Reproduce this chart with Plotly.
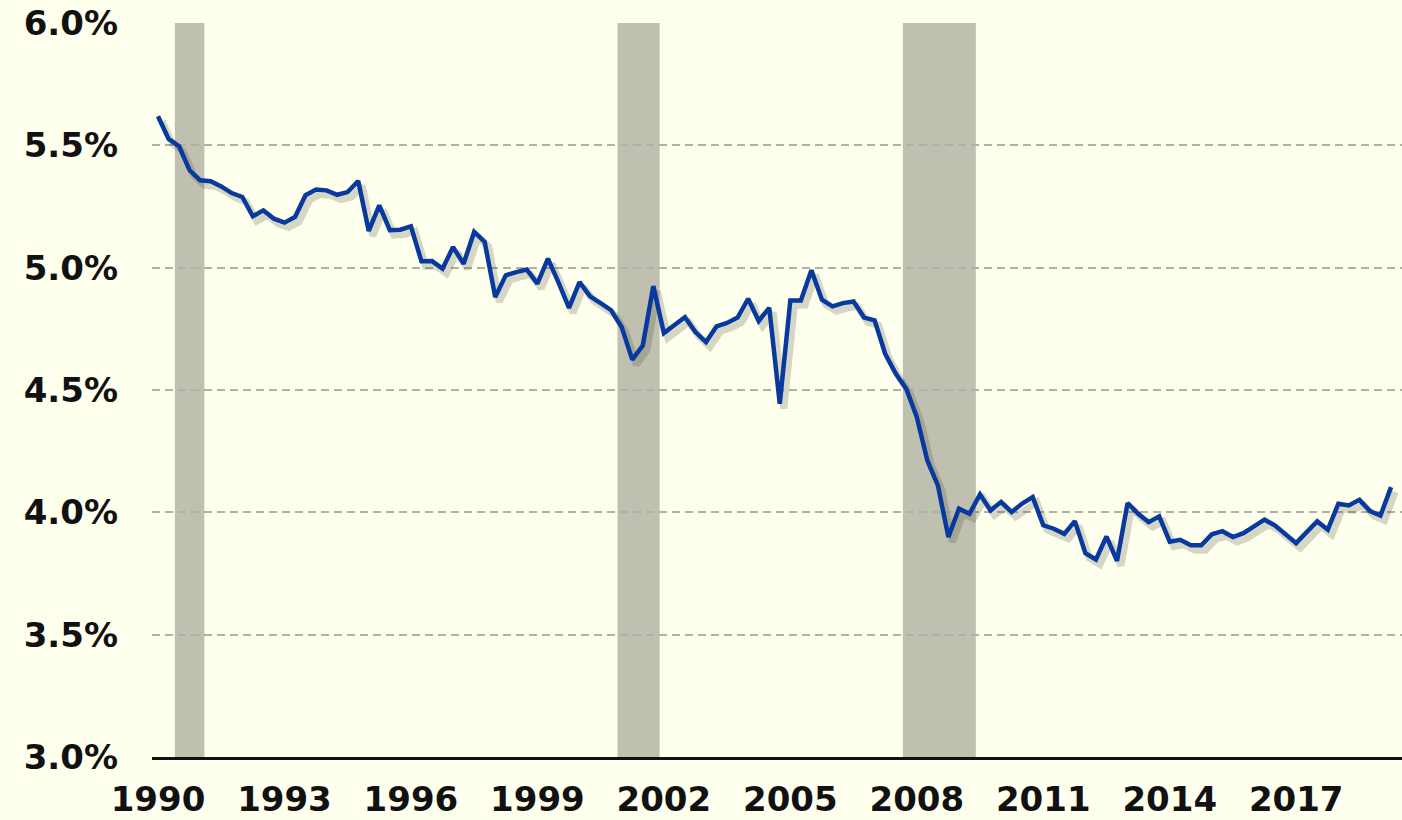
import plotly.graph_objects as go

start_year = 1990
values = [5.619, 5.527, 5.496, 5.398, 5.357, 5.353, 5.332, 5.305, 5.289, 5.21,
          5.234, 5.20, 5.184, 5.207, 5.296, 5.319, 5.316, 5.298, 5.309, 5.354,
          5.15, 5.255, 5.153, 5.155, 5.169, 5.026, 5.027, 4.996, 5.084, 5.016,
          5.146, 5.105, 4.88, 4.969, 4.982, 4.992, 4.935, 5.037, 4.94, 4.836,
          4.941, 4.883, 4.855, 4.826, 4.757, 4.624, 4.682, 4.925, 4.733, 4.764,
          4.798, 4.737, 4.696, 4.76, 4.774, 4.796, 4.873, 4.782, 4.836, 4.444,
          4.866, 4.866, 4.989, 4.869, 4.842, 4.855, 4.862, 4.796, 4.785, 4.648,
          4.567, 4.505, 4.39, 4.212, 4.11, 3.899, 4.015, 3.994, 4.073, 4.008,
          4.042, 4.001, 4.036, 4.062, 3.947, 3.933, 3.912, 3.964, 3.833, 3.807,
          3.901, 3.802, 4.038, 3.994, 3.96, 3.983, 3.88, 3.888, 3.865, 3.865,
          3.91, 3.923, 3.899, 3.915, 3.942, 3.97, 3.946, 3.91, 3.874, 3.919,
          3.963, 3.929, 4.035, 4.028, 4.051, 4.005, 3.987, 4.103]
years = [start_year + i / 4 for i in range(len(values))]

recession_start = [1990.4, 2000.9, 2007.67]
recession_end = [1991.1, 2001.9, 2009.4]

tick_years = [1990, 1993, 1996, 1999, 2002, 2005, 2008, 2011, 2014, 2017]
tick_labels = [str(y) for y in tick_years]
y_ticks = [3.0, 3.5, 4.0, 4.5, 5.0, 5.5, 6.0]
y_labels = ["3.0%", "3.5%", "4.0%", "4.5%", "5.0%", "5.5%", "6.0%"]

XR = [1989.858, 2019.51]
YR = [3.0, 6.0]
# shadow offset (in axis units): ~4px right, ~5px down
dx = 0.095
dy = 0.02

BG = "#FFFFEE"
FAMILY = "DejaVu Sans, sans-serif"

fig = go.Figure()
fig.add_trace(go.Scatter(x=years, y=values, mode="lines", xaxis="x2", yaxis="y2",
                         line=dict(color="rgba(70,70,50,0.22)", width=7),
                         hoverinfo="skip", showlegend=False))
fig.add_trace(go.Scatter(x=years, y=values, mode="lines", xaxis="x3", yaxis="y3",
                         line=dict(color="#07399E", width=4.5),
                         showlegend=False))

for s, e in zip(recession_start, recession_end):
    fig.add_shape(type="rect", xref="x", yref="y", x0=s, x1=e, y0=YR[0], y1=YR[1],
                  fillcolor="#C0C0B0", line=dict(width=0), layer="below")

fig.update_layout(
    width=1402, height=820,
    margin=dict(l=152, r=0, t=23, b=63, autoexpand=False),
    paper_bgcolor=BG, plot_bgcolor=BG,
    font=dict(family=FAMILY, size=34, color="#111111"),
    xaxis=dict(range=XR, tickvals=tick_years, ticktext=tick_labels,
               showgrid=False, zeroline=False, showline=True,
               linecolor="#111111", linewidth=3, ticks="", automargin=False,
               ticklabelstandoff=10,
               tickfont=dict(family=FAMILY, size=34, color="#111111", weight="bold")),
    yaxis=dict(range=YR, tickvals=y_ticks, ticktext=y_labels,
               showgrid=True, gridcolor="#B0B0A8", gridwidth=1.8, griddash="8px,5px",
               zeroline=False, showline=False, ticks="", automargin=False,
               ticklabelstandoff=33,
               tickfont=dict(family=FAMILY, size=34, color="#111111", weight="bold")),
    xaxis2=dict(range=[XR[0] - dx, XR[1] - dx], overlaying="x", visible=False),
    yaxis2=dict(range=[YR[0] + dy, YR[1] + dy], overlaying="y", visible=False),
    xaxis3=dict(range=XR, overlaying="x", visible=False),
    yaxis3=dict(range=YR, overlaying="y", visible=False),
)

fig.write_html("out.html",
               config={"displayModeBar": False},
               post_script="document.body.style.margin='0';document.body.style.overflow='hidden';")
